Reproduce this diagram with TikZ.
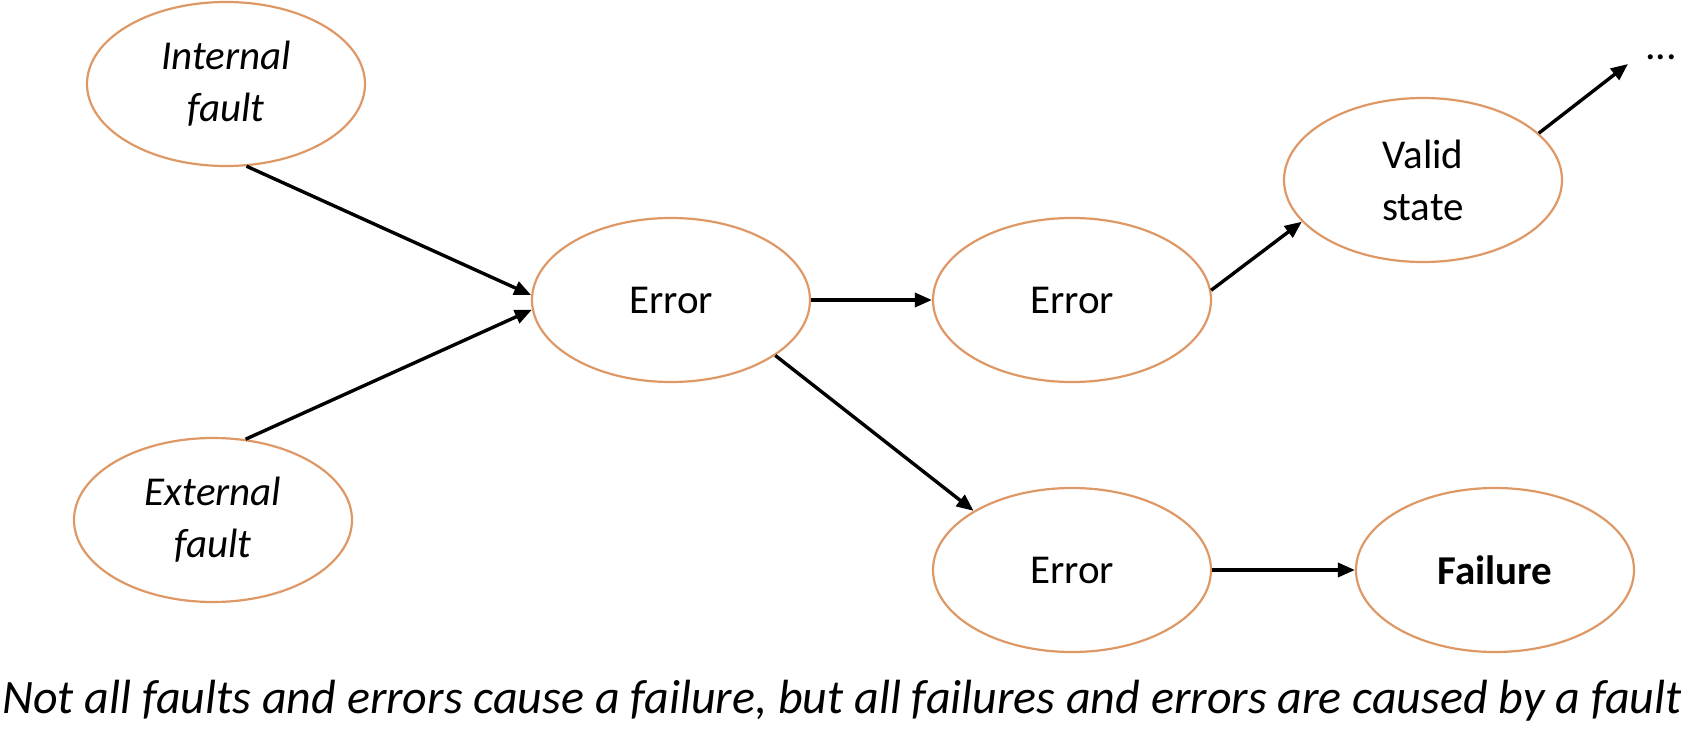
\documentclass[tikz,border=0pt]{standalone}
\usepackage{fontspec}
\setmainfont{Carlito}
\usetikzlibrary{shapes.geometric,arrows.meta}
\definecolor{ringc}{RGB}{222,152,102}
\tikzset{
  state/.style={ellipse,draw=ringc,line width=2.2pt,inner sep=0pt,
    minimum width=278pt,minimum height=164pt,align=center,
    font=\fontsize{41}{52}\selectfont},
  conn/.style={line width=3.4pt,-{Triangle[length=17pt,width=14pt]}},
}
\begin{document}
\begin{tikzpicture}[x=1pt,y=-1pt]
\useasboundingbox (0,0) rectangle (1690,738);
\node[state] (int) at (226,84) {\itshape Internal\\\itshape fault};
\node[state] (ext) at (213,520) {\itshape External\\\itshape fault};
\node[state] (err1) at (671,300) {Error};
\node[state] (err2) at (1072,300) {Error};
\node[state] (valid) at (1423,180) {Valid\\state};
\node[state] (err3) at (1072,570) {Error};
\node[state] (fail) at (1495,570) {\bfseries Failure};
\node[font=\fontsize{42}{44}\selectfont,inner sep=0pt] (dots) at (1661,57) {...};
\coordinate (dotsin) at (1628,64);
\node[font=\fontsize{48}{52}\itshape,inner sep=0pt] (cap) at (842,701)
  {Not all faults and errors cause a failure, but all failures and errors are caused by a fault};
\draw[conn] (int.-76) -- (err1.178);
\draw[conn] (ext.68) -- (err1.184);
\draw[conn] (err1.east) -- (err2.west);
\draw[conn] (err1.-28.5) -- (err3.149);
\draw[conn] (err2.4) -- (valid.199);
\draw[conn] (valid.22.4) -- (dotsin);
\draw[conn] (err3.east) -- (fail.west);
\end{tikzpicture}
\end{document}
